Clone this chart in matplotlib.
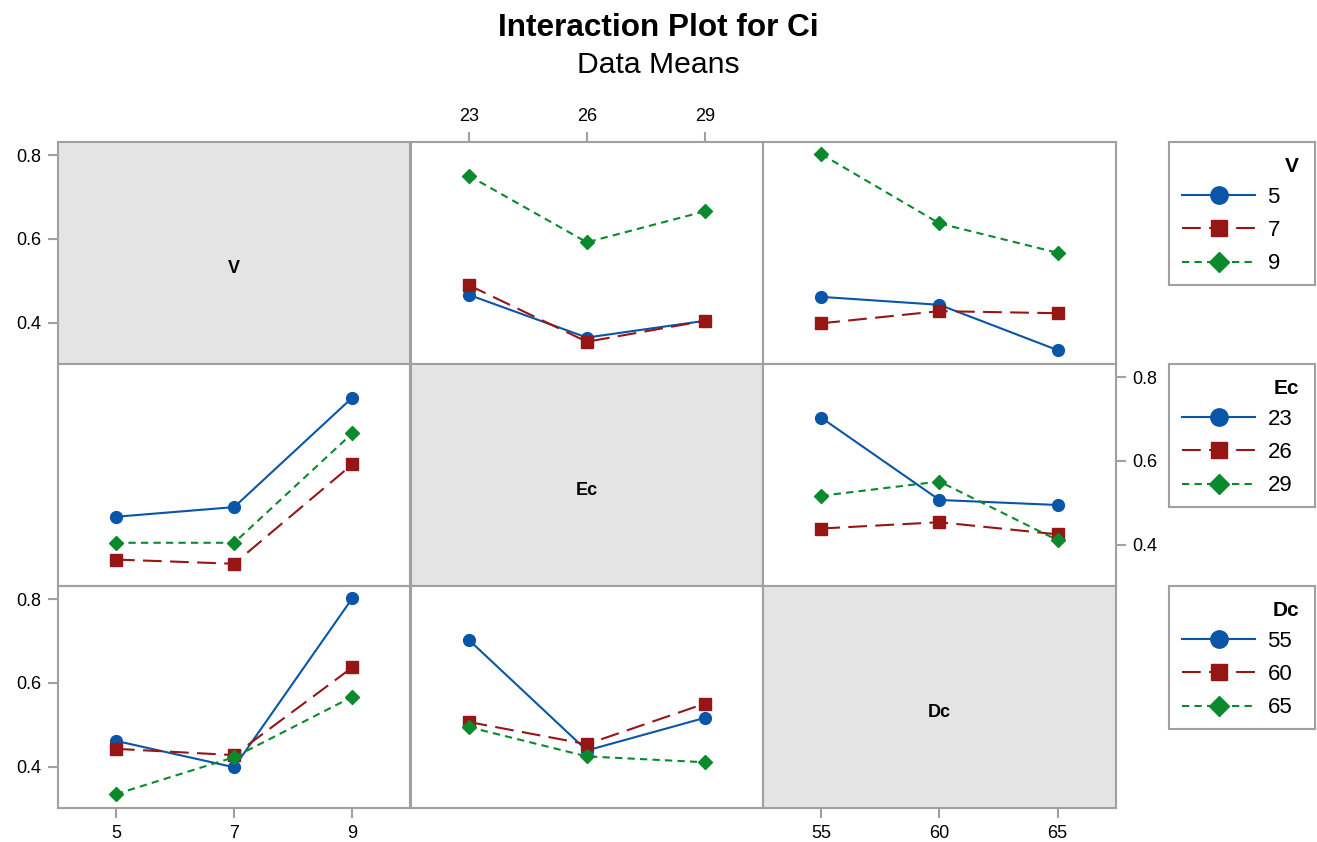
import matplotlib
matplotlib.use('Agg')
import matplotlib.pyplot as plt
from matplotlib.lines import Line2D

plt.rcParams['font.family'] = ['Liberation Sans', 'DejaVu Sans']

factors = ['V', 'Ec', 'Dc']
v_levels = [5, 7, 9]
ec_levels = [23, 26, 29]
dc_levels = [55, 60, 65]

# cell means (rows = first factor levels, cols = second factor levels)
v_ec = [[0.467, 0.365, 0.405],
        [0.490, 0.355, 0.405],
        [0.751, 0.592, 0.666]]
v_dc = [[0.462, 0.443, 0.335],
        [0.399, 0.428, 0.423],
        [0.802, 0.637, 0.567]]
ec_dc = [[0.703, 0.507, 0.495],
         [0.439, 0.454, 0.425],
         [0.517, 0.551, 0.411]]

y_ticks = [0.4, 0.6, 0.8]

levels = [v_levels, ec_levels, dc_levels]
tables = {(0, 1): v_ec, (0, 2): v_dc, (1, 2): ec_dc}

colors = ['#0a55a8', '#961616', '#0a8a2c']
markers = ['o', 's', 'D']
msizes = [8.5, 8.5, 7.5]
leg_msizes = [12.5, 12, 10.5]
dashes = [None, (9, 4), (3.5, 2.5)]
frame = '#a0a0a0'

W, H = 1317, 842
fig = plt.figure(figsize=(W / 100, H / 100), dpi=100)


def rect(x0, y0, w, h):
    return [x0 / W, 1 - (y0 + h) / H, w / W, h / H]


col_left = [58, 410.7, 763.3]
col_w = 352.3
row_top = [142, 364, 586]
row_h = 222


def style_line(i):
    kw = dict(color=colors[i], marker=markers[i], lw=1.5, zorder=3 + i)
    if dashes[i] is None:
        kw['linestyle'] = '-'
    else:
        kw['linestyle'] = '--'
        kw['dashes'] = dashes[i]
    return kw


for r in range(3):
    for c in range(3):
        ax = fig.add_axes(rect(col_left[c], row_top[r], col_w, row_h))
        ax.set_xlim(-0.49, 2.49)
        ax.set_ylim(0.302, 0.831)
        for s in ax.spines.values():
            s.set_color(frame)
            s.set_linewidth(1.5)
        ax.tick_params(which='both', left=False, bottom=False, top=False, right=False,
                       labelleft=False, labelbottom=False, labeltop=False, labelright=False,
                       color=frame, width=1.5, length=7, labelsize=13, pad=5)
        ax.set_xticks(range(3))
        ax.set_yticks(y_ticks)
        ax.set_xticklabels([str(v) for v in levels[c]])
        ax.set_yticklabels(['%.1f' % v for v in y_ticks])

        if r == c:
            ax.set_facecolor('#e4e4e4')
            ax.text(0.5, 0.43, factors[r], transform=ax.transAxes, ha='center', va='center',
                    fontsize=13, fontweight='bold')
        else:
            tab = tables[(min(r, c), max(r, c))]
            if r > c:
                tab = [list(x) for x in zip(*tab)]
            for i, row in enumerate(tab):
                kw = style_line(i)
                ax.plot(range(3), row, ms=msizes[i], **kw)

        # minitab style tick placement
        if (r, c) == (0, 0):
            ax.tick_params(left=True, labelleft=True)
        if (r, c) == (0, 1):
            ax.tick_params(top=True, labeltop=True)
        if (r, c) == (1, 2):
            ax.tick_params(right=True, labelright=True)
        if (r, c) == (2, 0):
            ax.tick_params(left=True, labelleft=True, bottom=True, labelbottom=True)
        if (r, c) == (2, 2):
            ax.tick_params(bottom=True, labelbottom=True)

# legend boxes
box_w, box_h = 146, 143
for r in range(3):
    lax = fig.add_axes(rect(1169, row_top[r], box_w, box_h))
    lax.set_xticks([])
    lax.set_yticks([])
    for s in lax.spines.values():
        s.set_color(frame)
        s.set_linewidth(1.5)
    handles = [Line2D([], [], ms=leg_msizes[i], **style_line(i)) for i in range(3)]
    lax.legend(handles, [str(v) for v in levels[r]], loc='upper left',
               bbox_to_anchor=(13 / box_w, 1 - 45 / box_h),
               frameon=False, fontsize=16,
               handlelength=3.3, handletextpad=0.55, labelspacing=0.55,
               borderpad=0, borderaxespad=0)
    lax.text(130 / box_w, 1 - 24 / box_h, factors[r], transform=lax.transAxes,
             ha='right', va='center', fontsize=15, fontweight='bold')

fig.text(0.5, 1 - 36 / H, 'Interaction Plot for Ci', ha='center', va='baseline',
         fontsize=22.7, fontweight='bold')
fig.text(0.5, 1 - 73 / H, 'Data Means', ha='center', va='baseline', fontsize=21.7)

fig.savefig('out.png', dpi=100)
